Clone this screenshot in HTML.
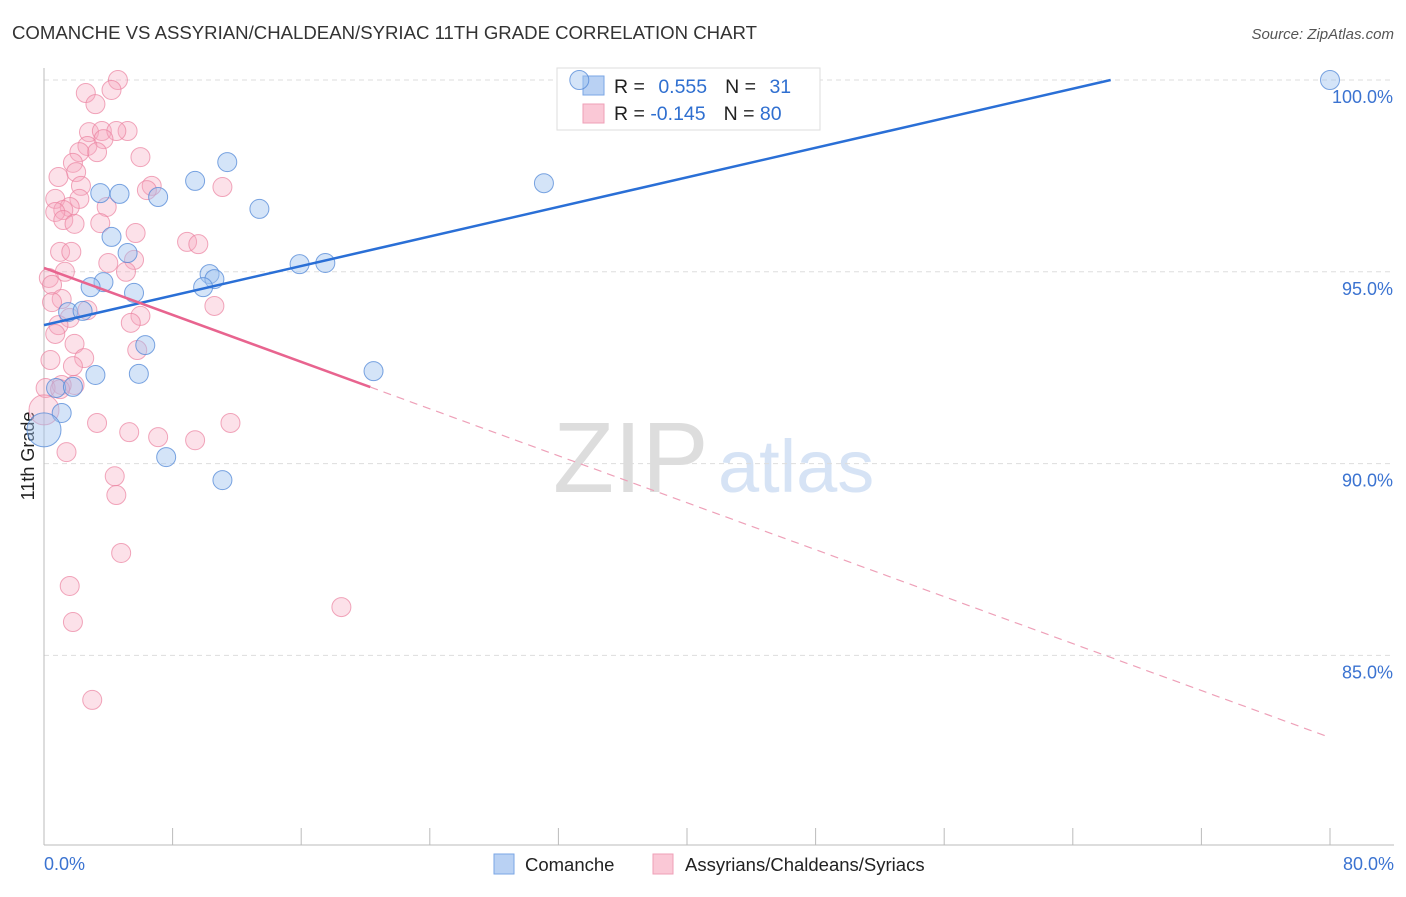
<!DOCTYPE html>
<html><head><meta charset="utf-8"><style>
body{margin:0;background:#fff;font-family:"Liberation Sans",sans-serif}
svg text{font-family:"Liberation Sans",sans-serif}
</style></head><body>
<svg id="c" width="1406" height="892" xmlns="http://www.w3.org/2000/svg">
<text x="12" y="39" font-size="18.6" fill="#333">COMANCHE VS ASSYRIAN/CHALDEAN/SYRIAC 11TH GRADE CORRELATION CHART</text>
<text x="1394" y="39" font-size="15" fill="#555" font-style="italic" text-anchor="end">Source: ZipAtlas.com</text>
<text x="553" y="492" font-size="100" fill="#ddd" font-family="Liberation Serif">ZIP</text>
<text x="718" y="492" font-size="74" fill="#d6e3f5">atlas</text>
<text transform="translate(34,456) rotate(-90)" font-size="18" fill="#222" text-anchor="middle">11th Grade</text>
<g id="grid"></g><g id="axes"></g>
<g>
<rect x="557" y="68" width="263" height="62" fill="#fff" stroke="#ddd"/>
<rect x="583" y="76" width="21" height="19" fill="#b9d1f3" stroke="#7aa6e6"/>
<rect x="583" y="104" width="21" height="19" fill="#fac8d6" stroke="#ef9fb7"/>
<text x="614" y="93" font-size="19.5" fill="#222">R = <tspan fill="#2f6fd0" dx="8">0.555</tspan><tspan dx="18" fill="#222">N = </tspan><tspan fill="#2f6fd0" dx="8">31</tspan></text>
<text x="614" y="120" font-size="19.5" fill="#222">R = <tspan fill="#2f6fd0">-0.145</tspan><tspan dx="18" fill="#222">N = </tspan><tspan fill="#2f6fd0">80</tspan></text>
</g>
<g id="pts"></g><g id="lines"></g>
<rect x="494" y="854" width="20" height="20" fill="#b9d1f3" stroke="#7aa6e6"/>
<text x="525" y="871" font-size="18.5" fill="#222">Comanche</text>
<rect x="653" y="854" width="20" height="20" fill="#fac8d6" stroke="#ef9fb7"/>
<text x="685" y="871" font-size="18.5" fill="#222">Assyrians/Chaldeans/Syriacs</text>
</svg>
<script>
const blueX=[33.3,80,11.4,9.4,31.1,3.5,4.7,7.1,13.4,4.2,5.2,15.9,17.5,10.3,10.6,3.7,9.9,2.9,5.6,1.5,2.4,6.3,3.2,5.9,20.5,0.75,1.1,7.6,11.1,1.8,0];
const blueY=[100,100,97.86,97.37,97.31,97.05,97.03,96.95,96.64,95.91,95.49,95.2,95.23,94.94,94.81,94.73,94.6,94.6,94.45,93.95,93.98,93.09,92.31,92.34,92.41,91.97,91.32,90.17,89.57,92.0,90.88];
const pinkX=[4.6,4.2,2.6,3.2,2.8,3.6,5.2,4.5,3.7,2.7,3.3,2.2,6.0,1.8,2.0,0.9,2.3,6.7,11.1,6.4,0.7,2.2,3.9,1.6,1.2,0.7,1.2,1.9,3.5,5.7,8.9,9.6,1.0,1.7,5.6,4.0,5.1,1.3,0.3,0.5,1.1,0.5,10.6,2.7,6.0,1.6,5.4,0.9,0.7,1.9,5.8,2.5,0.4,1.8,1.9,1.1,0.1,1.0,0,3.3,11.6,5.3,7.1,9.4,1.4,4.4,4.5,4.8,1.6,18.5,1.8,3.0];
const pinkY=[100,99.74,99.66,99.37,98.64,98.67,98.67,98.67,98.46,98.28,98.12,98.12,97.99,97.84,97.6,97.47,97.24,97.24,97.21,97.13,96.9,96.9,96.69,96.69,96.61,96.56,96.35,96.25,96.27,96.01,95.78,95.72,95.52,95.52,95.31,95.23,95.0,95.0,94.84,94.66,94.29,94.21,94.11,94.0,93.85,93.8,93.67,93.61,93.38,93.12,92.96,92.75,92.7,92.54,92.05,92.05,91.97,91.94,91.4,91.06,91.06,90.82,90.69,90.61,90.3,89.67,89.18,87.67,86.81,86.26,85.87,83.84];
const yTicks=[100,95,90,85];
const yTickLabels=["100.0%","95.0%","90.0%","85.0%"];
const blueTrend=[93.61,0.0963];
const pinkTrend=[95.1,-0.153];
const NS="http://www.w3.org/2000/svg";
const sx=v=>44+v*(1286/80);
const sy=v=>80+(100-v)*38.36;
function mk(tag,attrs,parent){const e=document.createElementNS(NS,tag);for(const k in attrs)e.setAttribute(k,attrs[k]);document.getElementById(parent).appendChild(e);return e;}
yTicks.forEach((t,i)=>{
 const l=mk('line',{x1:44,x2:1394,y1:sy(t),y2:sy(t),stroke:'#ddd','stroke-dasharray':'5,4'},'grid');
 
 
 const tx=mk('text',{x:1393,y:sy(t)+23,'font-size':18,fill:'#3b73d1','text-anchor':'end'},'grid');
 tx.textContent=yTickLabels[i];
 
 
});
const ax=mk('line',{x1:44,x2:44,y1:68,y2:845,stroke:'#bbb'},'axes');


const bx=mk('line',{x1:44,x2:1394,y1:845,y2:845,stroke:'#bbb'},'axes');


for(let v=0;v<=80;v+=8){
 const t=mk('line',{x1:sx(v),x2:sx(v),y1:828,y2:845,stroke:'#bbb'},'axes');
 
 
}
const xl=mk('text',{x:44,y:870,'font-size':18,fill:'#3b73d1'},'axes');xl.textContent='0.0%';


const xr=mk('text',{x:1394,y:870,'font-size':18,fill:'#3b73d1','text-anchor':'end'},'axes');xr.textContent='80.0%';


pinkX.forEach((x,i)=>{
 const r=(x===0)?15:9.5;
 const c=mk('circle',{cx:sx(x),cy:sy(pinkY[i]),r:r,fill:'rgba(246,168,192,0.35)',stroke:'rgba(235,130,160,0.7)','stroke-width':1},'pts');
 
 
});
blueX.forEach((x,i)=>{
 const r=(x===0)?17:9.5;
 const c=mk('circle',{cx:sx(x),cy:sy(blueY[i]),r:r,fill:'rgba(160,196,240,0.45)',stroke:'rgba(80,135,215,0.75)','stroke-width':1},'pts');
 
 
});
const bEnd=(100-blueTrend[0])/blueTrend[1];
const bl=mk('line',{x1:sx(0),y1:sy(blueTrend[0]),x2:sx(bEnd),y2:sy(100),stroke:'#2a6fd6','stroke-width':2.5},'lines');


const pl=mk('line',{x1:sx(0),y1:sy(pinkTrend[0]),x2:sx(20.3),y2:sy(pinkTrend[0]+pinkTrend[1]*20.3),stroke:'#e8648f','stroke-width':2.5},'lines');


const pd=mk('line',{x1:sx(20.3),y1:sy(pinkTrend[0]+pinkTrend[1]*20.3),x2:sx(80),y2:sy(pinkTrend[0]+pinkTrend[1]*80),stroke:'#eea0b8','stroke-width':1.2,'stroke-dasharray':'8,6'},'lines');


</script>
</body></html>
